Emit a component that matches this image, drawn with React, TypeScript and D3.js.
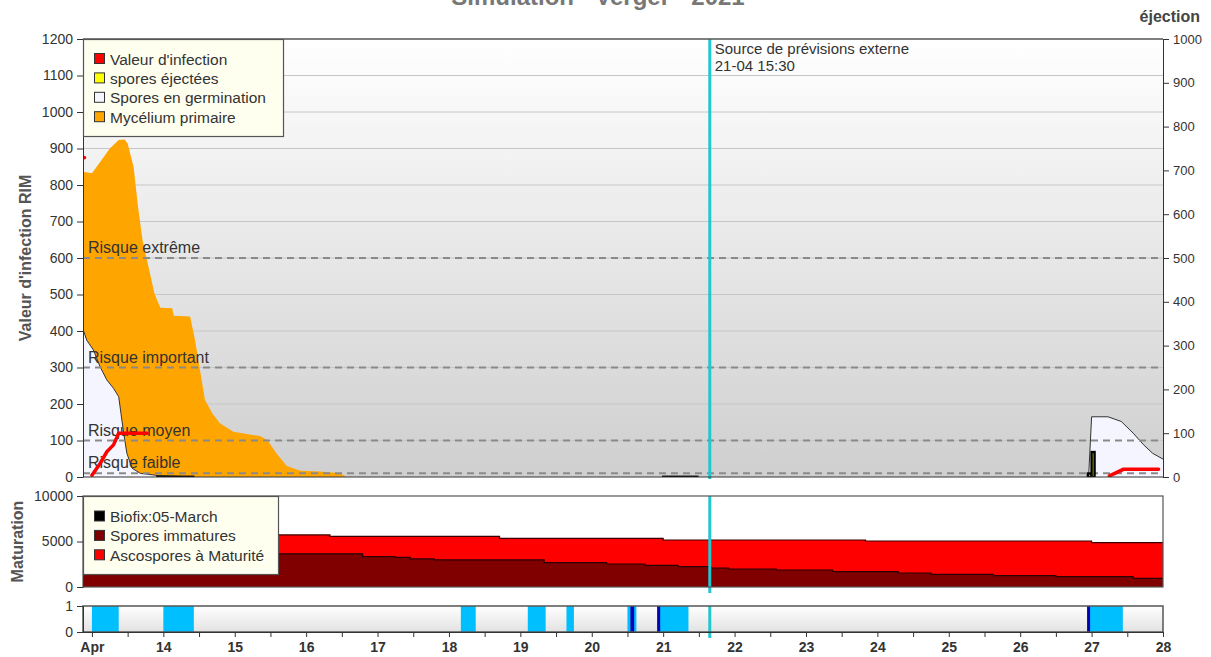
import React, { useEffect, useRef } from 'react';
import * as d3 from 'd3';

type Point = [string, number | null];
type Span = [string, string];
type Bar = [string, string, number];

const chartTitle = 'Simulation - Verger - 2021';
const domainStart = '2021-04-12T21:00';
const domainEnd = '2021-04-28T00:00';
const forecastTime = '2021-04-21T15:40';
const forecastLines = ['Source de prévisions externe', '21-04 15:30'];

const riskLabels = ['Risque extrême', 'Risque important', 'Risque moyen', 'Risque faible'];
const riskValues = [600, 300, 100, 10];

const mainLegendLabels = ["Valeur d'infection", 'spores éjectées', 'Spores en germination', 'Mycélium primaire'];
const mainLegendColors = ['#ff0000', '#ffff00', '#f4f5ff', '#ffa500'];
const matLegendLabels = ['Biofix:05-March', 'Spores immatures', 'Ascospores à Maturité'];
const matLegendColors = ['#000000', '#800000', '#ff0000'];

// Mycélium primaire (left axis)
const mycelium: Point[] = [
  ['2021-04-12T21:00', 836],
  ['2021-04-13T00:00', 832],
  ['2021-04-13T03:00', 866],
  ['2021-04-13T06:00', 900],
  ['2021-04-13T09:00', 923],
  ['2021-04-13T11:00', 925],
  ['2021-04-13T12:00', 914],
  ['2021-04-13T14:00', 850],
  ['2021-04-13T15:30', 740],
  ['2021-04-13T17:00', 649],
  ['2021-04-13T19:30', 558],
  ['2021-04-13T21:00', 503],
  ['2021-04-13T23:00', 464],
  ['2021-04-14T03:00', 462],
  ['2021-04-14T03:30', 442],
  ['2021-04-14T09:00', 440],
  ['2021-04-14T10:40', 375],
  ['2021-04-14T12:30', 284],
  ['2021-04-14T14:00', 211],
  ['2021-04-14T16:30', 174],
  ['2021-04-14T19:00', 147],
  ['2021-04-14T23:30', 124],
  ['2021-04-15T08:30', 112],
  ['2021-04-15T11:00', 101],
  ['2021-04-15T14:00', 65],
  ['2021-04-15T17:30', 30],
  ['2021-04-15T22:00', 17],
  ['2021-04-16T04:30', 15],
  ['2021-04-16T11:30', 10],
  ['2021-04-16T13:30', 0],
];

// Spores en germination (left axis)
const germination: Point[] = [
  ['2021-04-12T21:00', 405],
  ['2021-04-12T22:15', 375],
  ['2021-04-13T00:30', 348],
  ['2021-04-13T02:45', 302],
  ['2021-04-13T05:00', 266],
  ['2021-04-13T07:15', 243],
  ['2021-04-13T09:00', 220],
  ['2021-04-13T09:45', 175],
  ['2021-04-13T10:40', 120],
  ['2021-04-13T11:45', 65],
  ['2021-04-13T13:30', 24],
  ['2021-04-13T16:15', 10],
  ['2021-04-13T22:15', 4],
  ['2021-04-14T10:40', 0],
  ['2021-04-14T11:00', null],
  ['2021-04-26T23:00', 0],
  ['2021-04-27T00:00', 165],
  ['2021-04-27T05:30', 165],
  ['2021-04-27T10:00', 152],
  ['2021-04-27T14:00', 120],
  ['2021-04-27T17:30', 88],
  ['2021-04-27T20:30', 65],
  ['2021-04-28T00:00', 49],
];

// Valeur d'infection (left axis)
const infection: Point[] = [
  ['2021-04-12T21:00', 876],
  ['2021-04-12T21:30', 875],
  ['2021-04-12T22:00', null],
  ['2021-04-13T00:00', 5],
  ['2021-04-13T02:45', 37],
  ['2021-04-13T05:00', 69],
  ['2021-04-13T07:15', 88],
  ['2021-04-13T09:00', 120],
  ['2021-04-13T18:30', 120],
  ['2021-04-13T19:00', null],
  ['2021-04-27T06:00', 3],
  ['2021-04-27T10:40', 21],
  ['2021-04-27T22:30', 21],
];

// spores éjectées (right axis), hourly bars
const ejected: Bar[] = [
  ['2021-04-13T22:00', '2021-04-14T10:00', 0.5],
  ['2021-04-21T00:00', '2021-04-21T11:30', 0.5],
  ['2021-04-26T22:45', '2021-04-27T00:00', 8],
  ['2021-04-27T00:00', '2021-04-27T01:00', 57],
];

// Maturation, step series
const totalSpores: Point[] = [
  ['2021-04-12T21:00', 5720],
  ['2021-04-16T08:00', 5560],
  ['2021-04-18T17:00', 5350],
  ['2021-04-21T00:00', 5165],
  ['2021-04-23T20:00', 5055],
  ['2021-04-27T00:00', 4870],
  ['2021-04-28T00:00', 4870],
];
const immatureSpores: Point[] = [
  ['2021-04-12T21:00', 3650],
  ['2021-04-16T19:00', 3330],
  ['2021-04-17T06:00', 3250],
  ['2021-04-17T11:00', 3080],
  ['2021-04-17T19:00', 2970],
  ['2021-04-19T08:00', 2670],
  ['2021-04-20T05:00', 2530],
  ['2021-04-20T18:00', 2380],
  ['2021-04-21T05:00', 2230],
  ['2021-04-21T16:00', 2090],
  ['2021-04-21T22:00', 1980],
  ['2021-04-22T14:00', 1870],
  ['2021-04-23T09:00', 1680],
  ['2021-04-24T07:00', 1540],
  ['2021-04-24T18:00', 1390],
  ['2021-04-25T15:00', 1240],
  ['2021-04-26T12:00', 1130],
  ['2021-04-27T14:00', 950],
  ['2021-04-28T00:00', 950],
];

// Humectation / pluie
const wetPeriods: Span[] = [
  ['2021-04-13T00:00', '2021-04-13T09:00'],
  ['2021-04-14T00:00', '2021-04-14T10:15'],
  ['2021-04-18T04:00', '2021-04-18T09:00'],
  ['2021-04-19T02:30', '2021-04-19T08:30'],
  ['2021-04-19T15:30', '2021-04-19T18:00'],
  ['2021-04-20T12:00', '2021-04-20T15:00'],
  ['2021-04-20T22:00', '2021-04-21T08:30'],
  ['2021-04-26T22:30', '2021-04-27T10:30'],
];
const rainPeriods: Span[] = [
  ['2021-04-20T13:00', '2021-04-20T14:15'],
  ['2021-04-20T22:00', '2021-04-20T23:00'],
  ['2021-04-26T22:30', '2021-04-26T23:30'],
];

const parse = d3.timeParse('%Y-%m-%dT%H:%M');
const toDate = (s: string) => parse(s) as Date;

const font = '"Liberation Sans", Arial, sans-serif';

const RimChart: React.FC = () => {
  const svgRef = useRef<SVGSVGElement>(null);

  useEffect(() => {
    if (!svgRef.current) return;
    const svg = d3.select(svgRef.current);
    svg.selectAll('*').remove();

    const left = 83;
    const right = 1163;
    const mainTop = 39;
    const mainBottom = 477;
    const matTop = 496;
    const matBottom = 587;
    const wetTop = 606;
    const wetBottom = 632;

    const x = d3.scaleTime().domain([toDate(domainStart), toDate(domainEnd)]).range([left, right]);
    const yL = d3.scaleLinear().domain([0, 1200]).range([mainBottom, mainTop]);
    const yR = d3.scaleLinear().domain([0, 1000]).range([mainBottom, mainTop]);
    const yM = d3.scaleLinear().domain([0, 10000]).range([matBottom, matTop]);
    const yW = d3.scaleLinear().domain([0, 1]).range([wetBottom, wetTop]);
    const intFmt = d3.format('d');

    const defs = svg.append('defs');
    const g1 = defs.append('linearGradient').attr('id', 'bgMain').attr('x1', 0).attr('y1', 0).attr('x2', 0).attr('y2', 1);
    g1.append('stop').attr('offset', '0%').attr('stop-color', '#ffffff');
    g1.append('stop').attr('offset', '100%').attr('stop-color', '#cfcfcf');
    const g2 = defs.append('linearGradient').attr('id', 'bgWet').attr('x1', 0).attr('y1', 0).attr('x2', 0).attr('y2', 1);
    g2.append('stop').attr('offset', '0%').attr('stop-color', '#ffffff');
    g2.append('stop').attr('offset', '100%').attr('stop-color', '#e2e2e2');
    defs.append('clipPath').attr('id', 'clipMain')
      .append('rect').attr('x', left).attr('y', mainTop).attr('width', right - left).attr('height', mainBottom - mainTop);
    defs.append('clipPath').attr('id', 'clipMat')
      .append('rect').attr('x', left).attr('y', matTop).attr('width', right - left).attr('height', matBottom - matTop);

    const styleAxis = (g: d3.Selection<SVGGElement, unknown, null, undefined>, size: number, bold = false) => {
      g.attr('font-family', font).attr('font-size', size);
      g.select('.domain').attr('stroke', '#333');
      g.selectAll('.tick line').attr('stroke', '#333');
      g.selectAll('.tick text').attr('fill', '#333').attr('font-weight', bold ? 'bold' : 'normal');
    };

    // title (cut off at the top, as in the source)
    svg.append('text')
      .attr('x', 598).attr('y', 5)
      .attr('text-anchor', 'middle')
      .attr('font-family', font).attr('font-size', 24).attr('font-weight', 'bold')
      .attr('fill', '#777')
      .text(chartTitle);

    // ---------- main panel ----------
    svg.append('rect')
      .attr('x', left).attr('y', mainTop)
      .attr('width', right - left).attr('height', mainBottom - mainTop)
      .attr('fill', 'url(#bgMain)');

    svg.append('g')
      .selectAll('line')
      .data(d3.range(100, 1200, 100))
      .enter()
      .append('line')
      .attr('x1', left).attr('x2', right)
      .attr('y1', (d) => yL(d)).attr('y2', (d) => yL(d))
      .attr('stroke', '#c6c6c6').attr('stroke-width', 1);

    const plot = svg.append('g').attr('clip-path', 'url(#clipMain)');

    const areaL = d3.area<Point>()
      .defined((d) => d[1] !== null)
      .x((d) => x(toDate(d[0])))
      .y0(yL(0))
      .y1((d) => yL(d[1] as number));
    const lineL = d3.line<Point>()
      .defined((d) => d[1] !== null)
      .x((d) => x(toDate(d[0])))
      .y((d) => yL(d[1] as number));

    plot.append('path').datum(mycelium).attr('d', areaL).attr('fill', '#ffa500');
    plot.append('path').datum(germination).attr('d', areaL).attr('fill', '#f4f5ff');
    plot.append('path').datum(germination).attr('d', lineL)
      .attr('fill', 'none').attr('stroke', '#333').attr('stroke-width', 1);

    // risk thresholds
    riskValues.forEach((v, i) => {
      plot.append('line')
        .attr('x1', left).attr('x2', right)
        .attr('y1', yL(v)).attr('y2', yL(v))
        .attr('stroke', '#8a8a8a').attr('stroke-width', 2)
        .attr('stroke-dasharray', '7,5');
      plot.append('text')
        .attr('x', left + 5).attr('y', yL(v) - 5)
        .attr('font-family', font).attr('font-size', 16)
        .attr('fill', '#333')
        .text(riskLabels[i]);
    });

    plot.append('path').datum(infection).attr('d', lineL)
      .attr('fill', 'none').attr('stroke', '#ff0000').attr('stroke-width', 3.5)
      .attr('stroke-linecap', 'round');

    plot.append('g')
      .selectAll('rect')
      .data(ejected)
      .enter()
      .append('rect')
      .attr('x', (d) => x(toDate(d[0])))
      .attr('width', (d) => x(toDate(d[1])) - x(toDate(d[0])))
      .attr('y', (d) => yR(d[2]))
      .attr('height', (d) => yR(0) - yR(d[2]))
      .attr('fill', '#ffff00')
      .attr('stroke', '#000').attr('stroke-width', 2.4);

    // forecast marker
    const fx = x(toDate(forecastTime));
    svg.append('line')
      .attr('x1', fx).attr('x2', fx).attr('y1', mainTop).attr('y2', mainBottom + 2)
      .attr('stroke', '#22c7d0').attr('stroke-width', 3);
    forecastLines.forEach((t, i) => {
      svg.append('text')
        .attr('x', fx + 5).attr('y', mainTop + 15 + i * 17)
        .attr('font-family', font).attr('font-size', 15)
        .attr('fill', '#333')
        .text(t);
    });

    svg.append('line')
      .attr('x1', left).attr('x2', right).attr('y1', mainTop).attr('y2', mainTop)
      .attr('stroke', '#555').attr('stroke-width', 1.5);
    svg.append('line')
      .attr('x1', left).attr('x2', right).attr('y1', mainBottom).attr('y2', mainBottom)
      .attr('stroke', '#333').attr('stroke-width', 1);

    const axL = svg.append('g')
      .attr('transform', `translate(${left},0)`)
      .call(d3.axisLeft(yL).tickValues(d3.range(0, 1201, 100)).tickSize(6).tickSizeOuter(0).tickPadding(4).tickFormat(intFmt));
    styleAxis(axL, 14);
    const axR = svg.append('g')
      .attr('transform', `translate(${right},0)`)
      .call(d3.axisRight(yR).tickValues(d3.range(0, 1001, 100)).tickSize(6).tickSizeOuter(0).tickPadding(4).tickFormat(intFmt));
    styleAxis(axR, 13);

    svg.append('text')
      .attr('transform', `translate(31,${(mainTop + mainBottom) / 2}) rotate(-90)`)
      .attr('text-anchor', 'middle')
      .attr('font-family', font).attr('font-size', 16).attr('font-weight', 'bold')
      .attr('fill', '#555')
      .text("Valeur d'infection RIM");
    svg.append('text')
      .attr('x', 1200).attr('y', 22)
      .attr('text-anchor', 'end')
      .attr('font-family', font).attr('font-size', 16).attr('font-weight', 'bold')
      .attr('fill', '#444')
      .text('éjection');

    const drawLegend = (x0: number, y0: number, w: number, h: number, labels: string[], colors: string[], rowTop: number) => {
      const lg = svg.append('g');
      lg.append('rect')
        .attr('x', x0 + 0.5).attr('y', y0 + 0.5).attr('width', w).attr('height', h)
        .attr('fill', '#fffff0').attr('stroke', '#555').attr('stroke-width', 1.2);
      labels.forEach((l, i) => {
        const cy = y0 + rowTop + i * 19.4;
        lg.append('rect')
          .attr('x', x0 + 11.5).attr('y', cy - 5.5).attr('width', 10).attr('height', 10)
          .attr('fill', colors[i]).attr('stroke', '#333').attr('stroke-width', 1);
        lg.append('text')
          .attr('x', x0 + 27).attr('y', cy).attr('dy', '0.36em')
          .attr('font-family', font).attr('font-size', 15.5)
          .attr('fill', '#333')
          .text(l);
      });
    };
    drawLegend(left, mainTop, 200, 97, mainLegendLabels, mainLegendColors, 20);

    // ---------- maturation panel ----------
    svg.append('rect')
      .attr('x', left).attr('y', matTop)
      .attr('width', right - left).attr('height', matBottom - matTop)
      .attr('fill', '#ffffff');

    const mat = svg.append('g').attr('clip-path', 'url(#clipMat)');
    const areaM = d3.area<Point>()
      .curve(d3.curveStepAfter)
      .x((d) => x(toDate(d[0])))
      .y0(yM(0))
      .y1((d) => yM(d[1] as number));
    const lineM = d3.line<Point>()
      .curve(d3.curveStepAfter)
      .x((d) => x(toDate(d[0])))
      .y((d) => yM(d[1] as number));
    mat.append('path').datum(totalSpores).attr('d', areaM).attr('fill', '#ff0000');
    mat.append('path').datum(totalSpores).attr('d', lineM)
      .attr('fill', 'none').attr('stroke', '#3a0000').attr('stroke-width', 1.2);
    mat.append('path').datum(immatureSpores).attr('d', areaM).attr('fill', '#800000');
    mat.append('path').datum(immatureSpores).attr('d', lineM)
      .attr('fill', 'none').attr('stroke', '#2a0000').attr('stroke-width', 1.2);

    svg.append('line')
      .attr('x1', fx).attr('x2', fx).attr('y1', matTop).attr('y2', matBottom + 6)
      .attr('stroke', '#22c7d0').attr('stroke-width', 3);

    svg.append('rect')
      .attr('x', left).attr('y', matTop)
      .attr('width', right - left).attr('height', matBottom - matTop)
      .attr('fill', 'none').attr('stroke', '#555').attr('stroke-width', 1.2);

    const axM = svg.append('g')
      .attr('transform', `translate(${left},0)`)
      .call(d3.axisLeft(yM).tickValues([0, 5000, 10000]).tickSize(6).tickSizeOuter(0).tickPadding(4).tickFormat(intFmt));
    styleAxis(axM, 14);

    svg.append('text')
      .attr('transform', `translate(23,${(matTop + matBottom) / 2}) rotate(-90)`)
      .attr('text-anchor', 'middle')
      .attr('font-family', font).attr('font-size', 16).attr('font-weight', 'bold')
      .attr('fill', '#555')
      .text('Maturation');

    drawLegend(left, matTop, 195, 78, matLegendLabels, matLegendColors, 20.5);

    // ---------- wetness panel ----------
    svg.append('rect')
      .attr('x', left).attr('y', wetTop)
      .attr('width', right - left).attr('height', wetBottom - wetTop)
      .attr('fill', 'url(#bgWet)');

    const spanRects = (data: Span[], color: string) => {
      svg.append('g')
        .selectAll('rect')
        .data(data)
        .enter()
        .append('rect')
        .attr('x', (d) => x(toDate(d[0])))
        .attr('width', (d) => x(toDate(d[1])) - x(toDate(d[0])))
        .attr('y', yW(1))
        .attr('height', yW(0) - yW(1))
        .attr('fill', color);
    };
    spanRects(wetPeriods, '#00bfff');
    spanRects(rainPeriods, '#0000b4');

    svg.append('line')
      .attr('x1', fx).attr('x2', fx).attr('y1', wetTop).attr('y2', wetBottom + 6)
      .attr('stroke', '#22c7d0').attr('stroke-width', 3);

    svg.append('rect')
      .attr('x', left).attr('y', wetTop)
      .attr('width', right - left).attr('height', wetBottom - wetTop)
      .attr('fill', 'none').attr('stroke', '#555').attr('stroke-width', 1.5);

    const axW = svg.append('g')
      .attr('transform', `translate(${left},0)`)
      .call(d3.axisLeft(yW).tickValues([0, 1]).tickSize(6).tickSizeOuter(0).tickPadding(4).tickFormat(intFmt));
    styleAxis(axW, 14);

    const days = d3.timeDay.range(toDate('2021-04-13T00:00'), toDate('2021-04-28T01:00'));
    const halfDays = days.slice(0, -1).map((d) => d3.timeHour.offset(d, 12));
    const dayFmt = d3.timeFormat('%-d');
    const axX = svg.append('g')
      .attr('transform', `translate(0,${wetBottom})`)
      .call(
        d3.axisBottom(x)
          .tickValues(days)
          .tickSize(5)
          .tickSizeOuter(0)
          .tickPadding(5)
          .tickFormat((d, i) => (i === 0 ? 'Apr' : dayFmt(d as Date)))
      );
    styleAxis(axX, 14, true);
    const axX2 = svg.append('g')
      .attr('transform', `translate(0,${wetBottom})`)
      .call(d3.axisBottom(x).tickValues(halfDays).tickSize(5).tickSizeOuter(0).tickFormat(() => ''));
    styleAxis(axX2, 14);
  }, []);

  return (
    <svg
      ref={svgRef}
      width={1211}
      height={657}
      style={{ position: 'absolute', left: 0, top: 0, background: '#ffffff' }}
    />
  );
};

export default function App() {
  return <RimChart />;
}
